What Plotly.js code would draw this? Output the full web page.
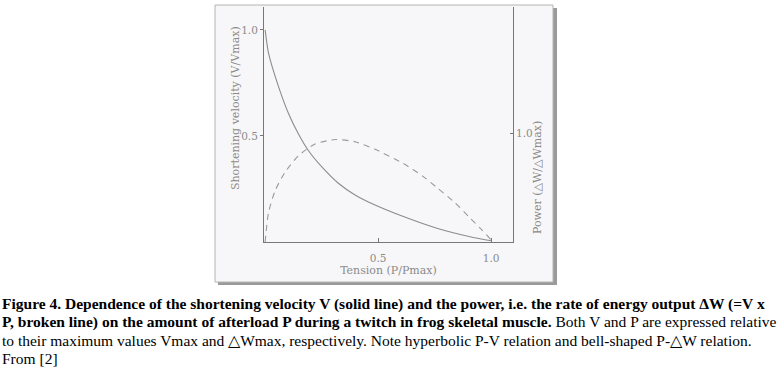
<!DOCTYPE html>
<html>
<head>
<meta charset="utf-8">
<script src="https://cdn.plot.ly/plotly-3.0.1.min.js"></script>
<style>html,body{margin:0;padding:0;background:#fff;}#chart{width:778px;height:370px;}</style>
</head>
<body>
<div id="chart"></div>
<script>
// Data
const tensionV = [0, 0.015, 0.06, 0.103, 0.147, 0.192, 0.25, 0.324, 0.398, 0.479, 0.612, 0.76, 0.907, 1.0];
const velocity = [1.0, 0.89, 0.73, 0.607, 0.51, 0.43, 0.355, 0.277, 0.222, 0.178, 0.12, 0.065, 0.025, 0.006];
const tensionW = [0, 0.015, 0.044, 0.088, 0.147, 0.221, 0.31, 0.398, 0.487, 0.612, 0.70, 0.76, 0.84, 0.907, 0.96, 1.0];
const power = [0, 0.27, 0.47, 0.64, 0.79, 0.90, 0.94, 0.92, 0.85, 0.72, 0.60, 0.50, 0.36, 0.22, 0.11, 0.02];
const xTickVals = [0.5, 1.0];
const xTickText = ["0.5", "1.0"];
const yTickVals = [0.5, 1.0];
const yTickText = ["0.5", "1.0"];
const y2TickVals = [1.0];
const y2TickText = ["1.0"];

const W = 778, H = 370;
const ML = 264, MR = 265, MT = 7, MB = 128;
const PW = W - ML - MR, PH = H - MT - MB;
const px = x => (x - ML) / PW;
const py = y => (H - MB - y) / PH;

const serif = "DejaVu Serif, Liberation Serif, serif";
const capFont = "Liberation Serif, Times New Roman, serif";
const gray = "#8a8a8a";

const traces = [
  {x: tensionV, y: velocity, type: "scatter", mode: "lines", name: "V",
   line: {color: "#8c8c8c", width: 1.1, shape: "spline", smoothing: 0.6}, yaxis: "y"},
  {x: tensionW, y: power, type: "scatter", mode: "lines", name: "ΔW",
   line: {color: "#9a9a9a", width: 1.1, dash: "6px,5px", shape: "spline", smoothing: 0.6}, yaxis: "y2"}
];

const capSize = 15.5;
const capLines = [
  "<b>Figure 4. Dependence of the shortening velocity V (solid line) and the power, i.e. the rate of energy output ΔW (=V x</b>",
  "<b>P, broken line) on the amount of afterload P during a twitch in frog skeletal muscle.</b> Both V and P are expressed relative",
  "to their maximum values Vmax and △Wmax, respectively. Note hyperbolic P-V relation and bell-shaped P-△W relation.",
  "From [2]"
];
const capY = [304, 322, 340, 358];

const annotations = [
  {text: "Shortening velocity (V/Vmax)", xref: "paper", yref: "paper", x: px(236), y: py(108),
   textangle: -90, showarrow: false, font: {family: serif, size: 11, color: gray}, xanchor: "center", yanchor: "middle"},
  {text: "Power (△W/△Wmax)", xref: "paper", yref: "paper", x: px(537), y: py(178),
   textangle: -90, showarrow: false, font: {family: serif, size: 11, color: gray}, xanchor: "center", yanchor: "middle"}
];
capLines.forEach((t, i) => annotations.push({
  text: t, xref: "paper", yref: "paper", x: px(0), y: py(capY[i]), xanchor: "left", yanchor: "middle",
  align: "left", showarrow: false, font: {family: capFont, size: capSize, color: "#000"}
}));

const shapes = [
  {type: "rect", xref: "paper", yref: "paper", x0: px(218), x1: px(557), y0: py(8), y1: py(285),
   fillcolor: "#9a9a9a", line: {width: 0}, layer: "below"},
  {type: "rect", xref: "paper", yref: "paper", x0: px(215), x1: px(553), y0: py(5), y1: py(282),
   fillcolor: "#f7f7f9", line: {color: "#b4b4b4", width: 1}, layer: "below"}
];

const layout = {
  width: W, height: H,
  margin: {l: ML, r: MR, t: MT, b: MB, pad: 0},
  paper_bgcolor: "#ffffff",
  plot_bgcolor: "rgba(0,0,0,0)",
  showlegend: false,
  xaxis: {range: [-0.005, 1.097], showgrid: false, zeroline: false, showline: true, linecolor: "#777", linewidth: 1,
    ticks: "inside", ticklen: 4, tickcolor: "#777", tickvals: xTickVals, ticktext: xTickText,
    ticklabelstandoff: 6,
    tickfont: {family: serif, size: 10.5, color: gray},
    title: {text: "Tension (P/Pmax)", font: {family: serif, size: 11, color: gray}, standoff: 2}},
  yaxis: {range: [0, 1.108], showgrid: false, zeroline: false, showline: true, linecolor: "#777", linewidth: 1,
    ticks: "outside", ticklen: 3, tickcolor: "#777", tickvals: yTickVals, ticktext: yTickText,
    tickfont: {family: serif, size: 10.5, color: gray}},
  yaxis2: {range: [0, 2.156], overlaying: "y", side: "right", showgrid: false, zeroline: false, showline: true,
    linecolor: "#777", linewidth: 1, ticks: "inside", ticklen: 3, tickcolor: "#777",
    tickvals: y2TickVals, ticktext: y2TickText, tickfont: {family: serif, size: 10.5, color: gray}},
  annotations: annotations,
  shapes: shapes
};

Plotly.newPlot("chart", traces, layout, {displayModeBar: false, staticPlot: true});
</script>
</body>
</html>
